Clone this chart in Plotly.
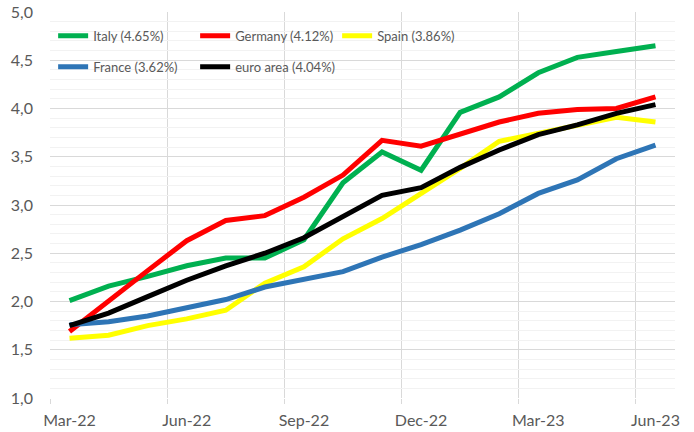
import plotly.graph_objects as go

months = ["Mar-22", "Apr-22", "May-22", "Jun-22", "Jul-22", "Aug-22", "Sep-22", "Oct-22",
          "Nov-22", "Dec-22", "Jan-23", "Feb-23", "Mar-23", "Apr-23", "May-23", "Jun-23"]
italy = [2.01, 2.16, 2.26, 2.37, 2.45, 2.45, 2.64, 3.23, 3.55, 3.36, 3.96, 4.12, 4.37, 4.53, 4.59, 4.65]
germany = [1.69, 2.01, 2.32, 2.63, 2.84, 2.89, 3.08, 3.31, 3.67, 3.61, 3.74, 3.86, 3.95, 3.99, 4.00, 4.12]
spain = [1.62, 1.65, 1.75, 1.82, 1.91, 2.19, 2.36, 2.65, 2.86, 3.12, 3.38, 3.66, 3.74, 3.83, 3.91, 3.86]
france = [1.76, 1.79, 1.85, 1.93, 2.02, 2.15, 2.23, 2.31, 2.46, 2.59, 2.74, 2.91, 3.12, 3.26, 3.48, 3.62]
euro = [1.75, 1.88, 2.05, 2.22, 2.37, 2.50, 2.66, 2.88, 3.10, 3.18, 3.39, 3.57, 3.73, 3.83, 3.95, 4.04]

series = [
    ("Italy (4.65%)", italy, "#00B050", "legend"),
    ("Germany (4.12%)", germany, "#FF0000", "legend"),
    ("Spain (3.86%)", spain, "#FFFF00", "legend"),
    ("France (3.62%)", france, "#2E75B6", "legend2"),
    ("euro area (4.04%)", euro, "#000000", "legend2"),
]

x_idx = list(range(len(months)))
tick_idx = x_idx[::3]
tick_lbl = months[::3]

fig = go.Figure()
for name, vals, col, lg in series:
    fig.add_trace(go.Scatter(x=x_idx, y=vals, name=name, mode="lines",
                             line=dict(color=col, width=5), legend=lg))

tick_font = dict(family="Lato, Calibri, sans-serif", size=16, color="#595959")
leg_font = dict(family="Lato, Calibri, sans-serif", size=13, color="#595959")

fig.update_layout(
    width=694, height=432,
    margin=dict(l=50, r=19, t=12, b=34, autoexpand=False),
    paper_bgcolor="white", plot_bgcolor="white",
    separators=",.",
    font=tick_font,
    showlegend=True,
    legend=dict(orientation="h", x=0.005, y=0.977, xanchor="left", yanchor="top",
                entrywidth=97, bgcolor="rgba(0,0,0,0)", font=leg_font, traceorder="normal"),
    legend2=dict(orientation="h", x=0.005, y=0.897, xanchor="left", yanchor="top",
                 entrywidth=97, bgcolor="rgba(0,0,0,0)", font=leg_font, traceorder="normal"),
    xaxis=dict(
        range=[-0.5, 15.5], tickvals=tick_idx, ticktext=tick_lbl,
        showgrid=False, ticks="", zeroline=False, showline=False, automargin=False,
        tickfont=tick_font, ticklabelstandoff=11, ticklabeloverflow="allow",
        minor=dict(tick0=-0.5, dtick=3, showgrid=True, gridcolor="#D9D9D9", gridwidth=1,
                   ticks="outside", ticklen=5, tickcolor="#D9D9D9"),
    ),
    yaxis=dict(
        range=[1, 5], dtick=0.5, tick0=1, tickformat=".1f",
        showgrid=True, gridcolor="#D9D9D9", gridwidth=1, zeroline=False, showline=False,
        ticks="", tickfont=tick_font, automargin=False, ticklabelstandoff=16,
        ticklabeloverflow="allow",
        minor=dict(dtick=0.1, tick0=1, showgrid=True, gridcolor="#F2F2F2", gridwidth=1),
    ),
)

fig.write_html("out.html", config={"displayModeBar": False},
               post_script="document.body.style.margin='0';")
